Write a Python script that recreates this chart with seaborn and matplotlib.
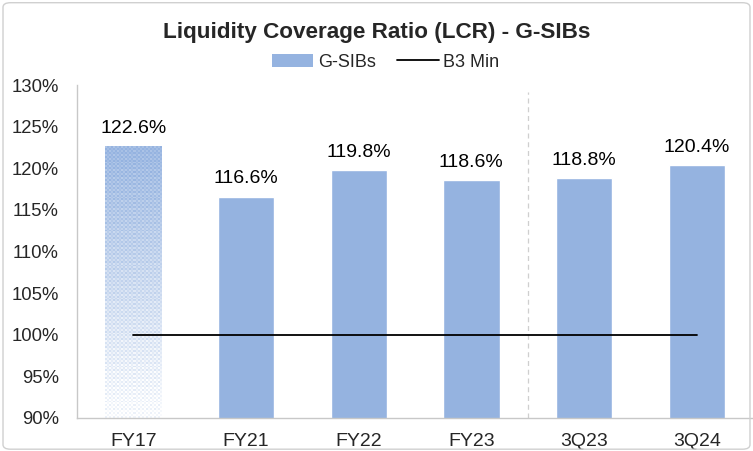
import numpy as np
import pandas as pd
import matplotlib
matplotlib.use("Agg")
import matplotlib.pyplot as plt
from matplotlib.patches import Patch, FancyBboxPatch
from matplotlib.lines import Line2D
from matplotlib.colors import to_rgb
import seaborn as sns

# Data
categories = ["FY17", "FY21", "FY22", "FY23", "3Q23", "3Q24"]
lcr_values = [122.6, 116.6, 119.8, 118.6, 118.8, 120.4]
b3_min = [100, 100, 100, 100, 100, 100]
y_ticks = [90, 95, 100, 105, 110, 115, 120, 125, 130]

BAR_COLOR = "#95B3E0"

sns.set_theme(style="white")
plt.rcParams["font.family"] = ["Liberation Sans", "DejaVu Sans"]

fig = plt.figure(figsize=(7.53, 4.51), dpi=100)
ax = fig.add_axes([0.1023, 0.0732, 0.8977, 0.7383])

df = pd.DataFrame({"period": categories, "lcr": lcr_values})
sns.barplot(data=df, x="period", y="lcr", color=BAR_COLOR, saturation=1,
            width=0.5, ax=ax, zorder=2)

# First bar: vertical fade from solid blue at the top to white at the base
first = ax.patches[0]
x0, w = first.get_x(), first.get_width()
first.set_facecolor("none")
first.set_edgecolor("none")
h_px, w_px = 140, 28
alpha = np.linspace(0.95, 0.03, h_px)[:, None] * np.ones((1, w_px))
bayer = np.array([[0, 8, 2, 10], [12, 4, 14, 6], [3, 11, 1, 9], [15, 7, 13, 5]]) / 16.0
thr = np.tile(bayer, (h_px // 4 + 1, w_px // 4 + 1))[:h_px, :w_px]
mix = np.clip(alpha + (thr - 0.5) * 0.35, 0, 1)
rgb = np.array(to_rgb(BAR_COLOR))
img = np.ones((h_px, w_px, 4))
img[..., :3] = rgb
img[..., 3] = mix
ax.imshow(img, extent=(x0, x0 + w, 90, lcr_values[0]), aspect="auto",
          interpolation="nearest", zorder=2, origin="upper")

# B3 minimum line
ax.plot(range(len(categories)), b3_min, color="black", lw=1.3, zorder=3)

# Separator between annual and quarterly figures
ax.axvline(3.5, ymin=0, ymax=0.98, color="#CFCFCF", lw=0.9, ls=(0, (4, 3)), zorder=1)

# Value labels
for i, v in enumerate(lcr_values):
    ax.text(i, v + 2.15, f"{v:.1f}%", ha="center", va="center", fontsize=14, color="black")

ax.set_xlim(-0.5, 5.5)
ax.set_ylim(90, 130)
ax.set_yticks(y_ticks)
ax.set_yticklabels([f"{t}%" for t in y_ticks], fontsize=13.3)
ax.tick_params(axis="x", labelsize=14, pad=11, length=0)
ax.tick_params(axis="y", pad=13, length=0)
ax.set_xlabel("")
ax.set_ylabel("")
for s in ["top", "right"]:
    ax.spines[s].set_visible(False)
for s in ["left", "bottom"]:
    ax.spines[s].set_color("#C8C8C8")
    ax.spines[s].set_linewidth(1.0)

fig.text(0.5, 0.928, "Liquidity Coverage Ratio (LCR) - G-SIBs", ha="center", va="center",
         fontsize=16.2, fontweight="bold")

handles = [Patch(facecolor=BAR_COLOR, edgecolor="none"),
           Line2D([0], [0], color="black", lw=1.3)]
fig.legend(handles, ["G-SIBs", "B3 Min"], loc="center", bbox_to_anchor=(0.512, 0.862),
           ncol=2, frameon=False, fontsize=13, handlelength=2.3, handleheight=0.7,
           columnspacing=1.2, handletextpad=0.25)

# Outer frame
frame = FancyBboxPatch((0.004, 0.004), 0.992, 0.99, boxstyle="round,pad=0,rounding_size=0.01",
                       transform=fig.transFigure, facecolor="none", edgecolor="#D0D0D0",
                       lw=1.0, zorder=0)
fig.patches.append(frame)

fig.savefig("out.png", dpi=100)
